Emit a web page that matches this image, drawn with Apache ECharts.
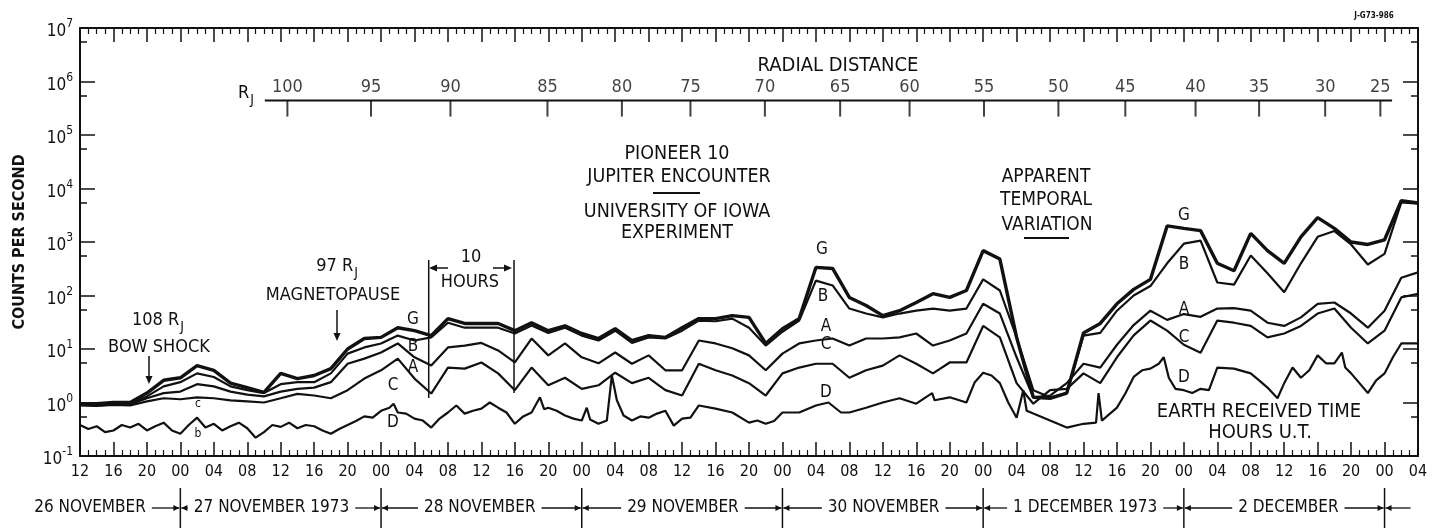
<!DOCTYPE html>
<html><head><meta charset="utf-8">
<script src="https://cdn.jsdelivr.net/npm/echarts@6/dist/echarts.min.js"></script>
<style>html,body{margin:0;padding:0;background:#fff}#c{width:1437px;height:528px}</style>
</head><body><div id="c"></div>
<script>
// ---------- DATA ----------
// hours since 26 Nov 1973 12:00 UT
const hours = [0,2,4,6,8,10,12,14,16,18,20,22,24,26,28,30,32,34,36,38,40,42,44,46,48,50,52,54,56,58,60,62,64,66,68,70,72,74,76,78,80,82,84,86,88,90,92,94,96,98,100,102,104,106,108,110,112,114,116,118,120,122,124,126,128,130,132,134,136,138,140,142,144,146,148,150,152,154,156,158,160];
const seriesG = [0.95,0.95,1.0,1.0,1.5,2.6,2.9,4.9,4.0,2.3,
  1.9,1.55,3.5,2.8,3.2,4.3,10,15.7,16.5,25,
  22,17.8,37,30,30,30,22,31,22,27,
  19.5,15.7,24,14.4,17.8,16.5,25,37,37,42,
  39,12.7,24,37,335,320,92,65,42,52,
  74,108,92,124,690,480,16.5,1.25,1.2,1.5,
  20,30,70,130,200,2000,1800,1630,400,290,
  1450,690,400,1250,2850,1800,1000,900,1100,5900,
  5400];
const seriesB = [0.92,0.92,0.95,0.95,1.3,2.0,2.4,3.5,3.0,2.0,
  1.7,1.5,2.2,2.4,2.4,3.5,8.2,10.7,12.7,17.8,
  14.4,16.5,31,25,25,25,19.5,27.5,20,25,
  17.8,14.4,22,13,16.5,15.7,22,34,33,37,
  25,11.6,21,34,190,154,57,46,39,46,
  52,57,52,57,200,124,16.5,1.7,1.25,1.5,
  17.8,20,52,100,150,400,930,1060,175,160,
  560,260,115,400,1250,1600,900,380,600,5500,
  5200];
const seriesA = [0.9,0.88,0.92,0.92,1.2,1.5,1.6,2.2,2.0,1.6,
  1.4,1.3,1.6,1.8,1.9,2.4,5.3,6.6,8.6,12.7,
  7,4.9,10.7,11.6,13,9.4,5.6,15.7,7.6,12.7,
  7,5.4,8.6,5.3,7.6,4,4,14.4,12.7,10.3,
  7.6,4,8.2,12.7,14.4,15.7,11.6,15.7,15.7,16.5,
  19.5,11.6,14.4,19.5,70,46,7,1.25,1.35,2.3,
  5.3,4.5,12,28,52,35,45,40,57,58,
  52,31,27,39,70,74,46,25,52,215,
  270];
const seriesC = [0.88,0.86,0.9,0.88,1.05,1.2,1.15,1.25,1.2,1.1,
  1.05,1.0,1.2,1.45,1.35,1.2,1.7,2.8,4.0,6.6,
  2.8,1.47,4.5,4.3,5.6,3.5,1.7,4.5,2.1,2.9,
  1.8,2.1,3.6,2.3,2.9,1.7,1.35,5.3,4,3.2,
  2.3,1.35,3.5,4.5,5.3,5.3,2.9,4,4.9,7.6,
  5.3,3.5,5.6,5.6,27,16.5,2.3,0.95,1.7,1.8,
  3.5,2.3,7,18,34,22,12,8.5,34,31,
  27,16.5,19.5,27,46,57,25,12.7,22,92,
  108];
const hoursD = [0,1,2,3,4,5,6,7,8,9,10,11,12,13,14,15,16,17,18,19,20,21,22,23,24,25,26,27,28,29,30,31,32,33,34,35,36,37,37.5,38,39,40,41,42,43,44,45,46,47,48,49,50,51,52,53,54,55,55.5,56,57,58,59,60,60.6,61,62,63,63.6,64.2,65,66,67,68,69,70,71,72,73,74,76,78,80,81,82,83,84,86,88,89.5,91,92,94,96,98,100,101.9,102.2,104,106,107,108,109,110,111,112,112.8,113.2,114,116,118,120,121.5,121.8,122.2,124,125,126,127,128,129,129.6,130.2,131,132,133,134,135,136,138,140,141,142,143.2,144,145,146,147,148,149,150,150.9,151.3,152,153,154,155,156,157,158,160];
const seriesD = [0.38,0.32,0.36,0.28,0.30,0.38,0.34,0.40,0.30,0.36,0.42,0.30,0.26,0.38,0.52,0.34,0.40,0.30,0.36,0.42,0.33,0.22,0.28,0.38,0.35,0.42,0.33,0.38,0.36,0.30,0.26,0.32,0.38,0.45,0.55,0.52,0.70,0.80,0.95,0.65,0.62,0.50,0.46,0.34,0.50,0.65,0.88,0.62,0.70,0.77,1.0,0.80,0.65,0.40,0.55,0.65,1.25,0.75,0.80,0.70,0.57,0.50,0.46,0.80,0.48,0.40,0.46,3.2,1.1,0.57,0.46,0.55,0.52,0.62,0.70,0.37,0.50,0.52,0.88,0.77,0.65,0.42,0.46,0.40,0.45,0.65,0.65,0.88,1.0,0.65,0.65,0.80,1.0,1.2,0.95,1.5,1.1,1.25,1.0,2.4,3.6,3.2,2.3,1.0,0.52,1.7,0.7,0.62,0.46,0.34,0.40,0.42,1.5,0.46,0.8,1.47,3.0,4.0,4.3,5.3,7.0,2.9,1.8,1.7,1.5,1.8,1.7,4.5,4.3,3.5,2.6,1.9,1.2,2.3,4.5,2.9,4.0,7.6,5.4,5.4,8.6,4.5,3.5,2.3,1.5,2.6,3.5,7.0,12.7,12.7];
// radial distance scale (R_J) and the time at which each value is reached
const radialLabels = ['100','95','90','85','80','75','70','65','60','55','50','45','40','35','30','25'];
const radialHours = [24.8,34.8,44.3,55.9,64.8,73.0,81.9,90.9,99.2,108.1,117.0,125.0,133.4,141.0,148.9,155.5];
const radialSpan = [22.1,156.9];
const dayLabels = ['26 NOVEMBER','27 NOVEMBER 1973','28 NOVEMBER','29 NOVEMBER','30 NOVEMBER','1 DECEMBER 1973','2 DECEMBER'];
const dayLabelHours = [1.2,22.9,47.8,72.1,96.1,120.2,144.5];
const midnightHours = [12,36,60,84,108,132,156];

// ---------- LAYOUT / STYLE ----------
const FONT = '"DejaVu Sans Condensed","Liberation Sans Narrow","DejaVu Sans",sans-serif';
const INK = '#111';
const RADIAL_LEVEL = 4.4e5;
const pad2 = n => (n < 10 ? '0' : '') + n;

const chart = echarts.init(document.getElementById('c'), null, {renderer: 'canvas'});
const xCommon = {
  type: 'value', min: 0, max: 160, interval: 4,
  axisLine: {show: true, onZero: false, lineStyle: {color: INK, width: 2}},
  axisTick: {show: true, inside: true, length: 14, lineStyle: {color: INK, width: 1.5}},
  minorTick: {show: true, splitNumber: 4, length: 6, lineStyle: {color: INK, width: 1.2}},
  splitLine: {show: false}
};
const yCommon = {
  type: 'log', logBase: 10, min: 0.1, max: 1e7, splitNumber: 8,
  axisLine: {show: true, onZero: false, lineStyle: {color: INK, width: 2}},
  axisTick: {show: true, inside: true, length: 15, lineStyle: {color: INK, width: 1.5}},
  minorTick: {show: true, splitNumber: 2, length: 7, lineStyle: {color: INK, width: 1.5}},
  splitLine: {show: false}
};
const line = (name, data, w, z) => ({
  name, type: 'line', data, showSymbol: false, symbol: 'none', z,
  lineStyle: {color: INK, width: w}, silent: true
});
chart.setOption({
  animation: false,
  backgroundColor: '#fff',
  grid: {left: 80, right: 19, top: 28, bottom: 72},
  xAxis: [
    Object.assign({}, xCommon, {position: 'bottom',
      axisLabel: {formatter: v => pad2((v + 12) % 24), fontSize: 16, fontFamily: FONT, color: INK, margin: 8}}),
    Object.assign({}, xCommon, {position: 'top', axisLabel: {show: false}})
  ],
  yAxis: [
    Object.assign({}, yCommon, {position: 'left',
      axisLabel: {
        margin: 7, color: INK,
        formatter: v => '{b|10}{s|' + Math.round(Math.log10(v)) + '}',
        rich: {
          b: {fontSize: 17, fontFamily: FONT, color: INK, padding: [8, 0, 0, 0]},
          s: {fontSize: 12, fontFamily: FONT, color: INK, padding: [0, 0, 8, 0]}
        }
      }}),
    Object.assign({}, yCommon, {position: 'right', axisLabel: {show: false}})
  ],
  series: [
    line('D', hoursD.map((h, i) => [h, seriesD[i]]), 2.2, 2),
    line('C', hours.map((h, i) => [h, seriesC[i]]), 2.2, 3),
    line('A', hours.map((h, i) => [h, seriesA[i]]), 2.2, 4),
    line('B', hours.map((h, i) => [h, seriesB[i]]), 2.2, 5),
    line('G', hours.map((h, i) => [h, seriesG[i]]), 3.4, 6),
    {type: 'line', data: radialSpan.map(h => [h, RADIAL_LEVEL]), symbol: 'none', silent: true,
     lineStyle: {color: INK, width: 2}},
    {type: 'scatter', data: radialHours.map((h, i) => [h, RADIAL_LEVEL, radialLabels[i]]), silent: true,
     symbol: 'rect', symbolSize: [2, 16], symbolOffset: [0, 8], itemStyle: {color: INK},
     label: {show: true, position: 'top', distance: 4, formatter: p => p.data[2],
       fontSize: 18, fontFamily: FONT, color: INK}}
  ]
});

// ---------- ANNOTATIONS ----------
const g = [];
const txt = (x, y, text, size, extra) => g.push(Object.assign({type: 'text', silent: true,
  style: Object.assign({x, y, text, font: size + 'px ' + FONT, fill: INK, align: 'center', verticalAlign: 'middle'}, extra || {})}));
const seg = (x1, y1, x2, y2, w) => g.push({type: 'line', silent: true,
  shape: {x1, y1, x2, y2}, style: {stroke: INK, lineWidth: w || 1.5}});
const tri = pts => g.push({type: 'polygon', silent: true, shape: {points: pts}, style: {fill: INK}});
const subJ = {rich: {m: {font: '18px ' + FONT, fill: INK}, j: {font: '14px ' + FONT, fill: INK, padding: [15, 0, 0, 1]}}};

g.push({type: 'text', silent: true, x: 20, y: 242, rotation: Math.PI / 2,
  style: {x: 0, y: 0, text: 'COUNTS PER SECOND', font: 'bold 16px ' + FONT, fill: INK, align: 'center', verticalAlign: 'middle'}});
txt(1374, 16, 'J-G73-986', 8, {font: 'bold 8px ' + FONT});
txt(838, 66, 'RADIAL DISTANCE', 20);
g.push({type: 'text', silent: true, style: Object.assign({x: 246, y: 93, text: '{m|R}{j|J}', align: 'center', verticalAlign: 'middle'}, subJ)});
txt(677, 154, 'PIONEER 10', 19.5);
txt(679, 177, 'JUPITER ENCOUNTER', 19.5);
seg(653, 193, 700, 193, 2);
txt(677, 212, 'UNIVERSITY OF IOWA', 19.5);
txt(677, 233, 'EXPERIMENT', 19.5);
txt(1046, 177, 'APPARENT', 19);
txt(1046, 200, 'TEMPORAL', 19);
txt(1047, 225, 'VARIATION', 19);
seg(1024, 238, 1069, 238, 2);
txt(1259, 412, 'EARTH RECEIVED TIME', 20);
txt(1260, 433, 'HOURS U.T.', 20);
// bow shock
g.push({type: 'text', silent: true, style: Object.assign({x: 158, y: 320, text: '{m|108 R}{j|J}', align: 'center', verticalAlign: 'middle'}, subJ)});
txt(159, 347, 'BOW SHOCK', 18);
seg(149, 356, 149, 378, 1.5); tri([[145.5, 376], [152.5, 376], [149, 384]]);
// magnetopause
g.push({type: 'text', silent: true, style: Object.assign({x: 337, y: 266, text: '{m|97 R}{j|J}', align: 'center', verticalAlign: 'middle'}, subJ)});
txt(333, 295, 'MAGNETOPAUSE', 18);
seg(337, 310, 337, 334, 1.5); tri([[333.5, 333], [340.5, 333], [337, 341]]);
// 10 hours
txt(471, 257, '10', 18);
txt(470, 282, 'HOURS', 18);
seg(436, 268, 448, 268, 1.5); tri([[429, 268], [437, 264.5], [437, 271.5]]);
seg(493, 268, 505, 268, 1.5); tri([[512, 268], [504, 264.5], [504, 271.5]]);
// curve letters
[[413, 320, 'G'], [413, 347, 'B'], [413, 368, 'A'], [393, 386, 'C'], [393, 423, 'D'],
 [822, 250, 'G'], [823, 297, 'B'], [826, 327, 'A'], [826, 345, 'C'], [826, 393, 'D'],
 [1184, 216, 'G'], [1184, 265, 'B'], [1184, 310, 'A'], [1184, 338, 'C'], [1184, 378, 'D']]
  .forEach(t => txt(t[0], t[1], t[2], 17));
txt(198, 404, 'c', 12); txt(198, 434, 'b', 12);

// elements positioned through the x scale
const px = h => chart.convertToPixel({xAxisIndex: 0}, h);
const ctx = document.createElement('canvas').getContext('2d');
const DAY_FONT = '17px ' + FONT;
ctx.font = DAY_FONT;
const DAY_Y = 508;
const halfW = dayLabels.map(t => ctx.measureText(t).width / 2);
dayLabels.forEach((t, i) => g.push({type: 'text', silent: true,
  style: {x: px(dayLabelHours[i]), y: DAY_Y, text: t, font: DAY_FONT, fill: INK, align: 'center', verticalAlign: 'middle'}}));
midnightHours.forEach((h, k) => {
  const sx = px(h);
  seg(sx, 488, sx, 528, 1.5);
  const leftEnd = px(dayLabelHours[k]) + halfW[k] + 6;
  const rightStart = k + 1 < dayLabels.length ? px(dayLabelHours[k + 1]) - halfW[k + 1] - 6 : sx + 26;
  if (leftEnd < sx - 2) seg(leftEnd, DAY_Y, sx - 1, DAY_Y, 1.3);
  if (rightStart > sx + 2) seg(sx + 1, DAY_Y, rightStart, DAY_Y, 1.3);
  tri([[sx - 1, DAY_Y], [sx - 7, DAY_Y - 3], [sx - 7, DAY_Y + 3]]);
  tri([[sx + 1, DAY_Y], [sx + 7, DAY_Y - 3], [sx + 7, DAY_Y + 3]]);
});
// 10-hour bracket lines at 28 Nov 06:00 and 16:00
seg(px(41.7), 260, px(41.7), 398, 1.5);
seg(px(51.9), 260, px(51.9), 393, 1.5);
chart.setOption({graphic: g});
</script></body></html>
